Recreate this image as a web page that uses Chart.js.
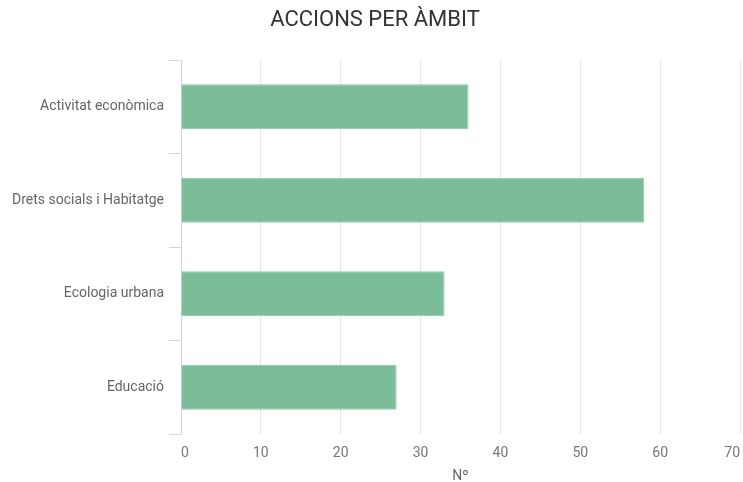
<!DOCTYPE html>
<html>
<head>
<meta charset="utf-8">
<script src="https://cdn.jsdelivr.net/npm/chart.js@4/dist/chart.umd.min.js"></script>
<style>
  html, body { margin: 0; padding: 0; background: #ffffff; }
  #wrap { width: 743px; height: 482px; position: relative; }
</style>
</head>
<body>
<div id="wrap"><canvas id="c" width="743" height="482"></canvas></div>
<script>
const categories = ["Activitat econòmica", "Drets socials i Habitatge", "Ecologia urbana", "Educació"];
const values = [36, 58, 33, 27];
const xTicks = [0, 10, 20, 30, 40, 50, 60, 70];
const chartTitle = "ACCIONS PER ÀMBIT";
const xAxisTitle = "Nº";

new Chart(document.getElementById('c'), {
  type: 'bar',
  data: {
    labels: categories,
    datasets: [{
      data: values,
      backgroundColor: '#7bbd99',
      borderColor: '#8fc8a9',
      borderWidth: 1,
      categoryPercentage: 1,
      barPercentage: 0.48
    }]
  },
  options: {
    indexAxis: 'y',
    responsive: false,
    animation: false,
    devicePixelRatio: 1,
    layout: { padding: { left: 10, right: 3, top: 0, bottom: 0 } },
    plugins: {
      legend: { display: false },
      tooltip: { enabled: false },
      title: {
        display: true,
        text: chartTitle,
        color: '#333333',
        font: { family: 'Roboto', size: 22, weight: 'normal' },
        padding: { top: 7, bottom: 26.6 }
      }
    },
    scales: {
      x: {
        min: xTicks[0],
        max: xTicks[xTicks.length - 1],
        afterBuildTicks: (s) => { s.ticks = xTicks.map(v => ({ value: v })); },
        afterFit: (s) => { s.height = 48; s.paddingLeft = 0; s.paddingRight = 0; },
        border: { display: false },
        grid: { color: '#e6e6e6', lineWidth: 1, drawTicks: false },
        ticks: {
          color: '#777777',
          font: { family: 'Roboto', size: 14 },
          padding: 11,
          align: 'inner',
          maxRotation: 0
        },
        title: {
          display: true,
          text: xAxisTitle,
          color: '#666666',
          font: { family: 'Roboto', size: 14 },
          padding: { top: 0, bottom: -3 }
        }
      },
      y: {
        afterFit: (s) => { s.width = 171; },
        border: { display: true, color: '#cfd6ea', width: 1 },
        grid: { drawOnChartArea: false, drawTicks: true, tickLength: 12, color: '#cfd6ea', offset: true },
        ticks: {
          color: '#666666',
          font: { family: 'Roboto', size: 14 },
          padding: 5
        }
      }
    }
  }
});
</script>
</body>
</html>
